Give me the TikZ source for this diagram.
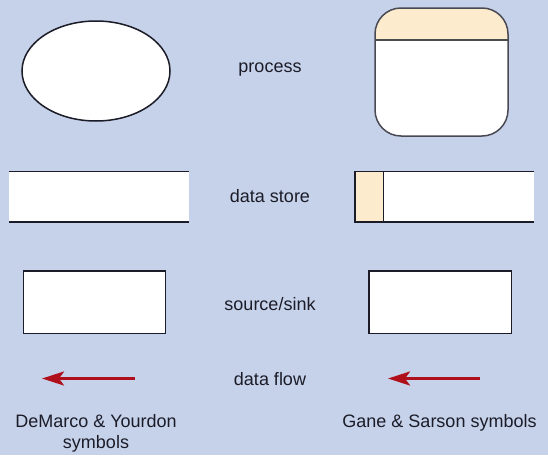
\documentclass[tikz,border=0pt]{standalone}
\usepackage{fontspec}
\setmainfont{Liberation Sans}
\usetikzlibrary{arrows.meta}

\definecolor{bgblue}{HTML}{C5D2EA}
\definecolor{cream}{HTML}{FDEBCD}
\definecolor{flowred}{HTML}{B0101C}
\definecolor{inkdark}{HTML}{1C1C28}

\begin{document}
\begin{tikzpicture}[x=1pt,y=-1pt,
  lbl/.style={text=inkdark,font=\fontsize{18}{21}\selectfont,align=center,inner sep=0pt},
  outline/.style={draw=inkdark,line width=1.5pt},
  flow/.style={flowred,line width=3pt,-{Stealth[length=22pt,width=14pt,inset=5pt]}}]
\useasboundingbox (0,0) rectangle (548,455);
\fill[bgblue] (0,0) rectangle (548,455);

% process
\draw[outline,fill=white] (96,71) ellipse [x radius=74,y radius=50];
\begin{scope}
\clip[rounded corners=26] (375,8) rectangle (508,136);
\fill[white] (375,8) rectangle (508,136);
\fill[cream] (375,8) rectangle (508,39.5);
\end{scope}
\draw[gray!60!black,line width=2pt] (375,39.5) -- (508,39.5);
\draw[outline,draw=inkdark!80,rounded corners=26] (375,8) rectangle (508,136);
\node[lbl] (process) at (270,70) {process};

% data store
\fill[white] (9.3,171.3) rectangle (188.7,222);
\draw[outline] (9.3,171.3) -- (188.7,171.3);
\draw[outline] (9.3,222) -- (188.7,222);
\fill[white] (355,171.3) rectangle (534.3,222);
\fill[cream] (355,171.3) rectangle (383.3,222);
\draw[outline] (534.3,171.3) -- (355,171.3) -- (355,222) -- (534.3,222);
\draw[outline] (383.3,171.3) -- (383.3,222);
\node[lbl] (store) at (270,196) {data store};

% source/sink
\draw[outline,fill=white] (23.3,271) rectangle (165.7,333.3);
\draw[outline,fill=white] (369,271) rectangle (511.7,333.3);
\node[lbl] (sink) at (270,304) {source/sink};

% data flow
\coordinate (dmtail) at (135,378.5);
\coordinate (dmhead) at (42,378.5);
\coordinate (gstail) at (480,378.5);
\coordinate (gshead) at (388,378.5);
\draw[flow] (dmtail) -- (dmhead);
\draw[flow] (gstail) -- (gshead);
\node[lbl] (flowlbl) at (270,379) {data flow};

\node[lbl,anchor=north] (demarco) at (96,414) {DeMarco \& Yourdon\\symbols};
\node[lbl,anchor=north] (gane) at (439.5,414) {Gane \& Sarson symbols};

\end{tikzpicture}
\end{document}
